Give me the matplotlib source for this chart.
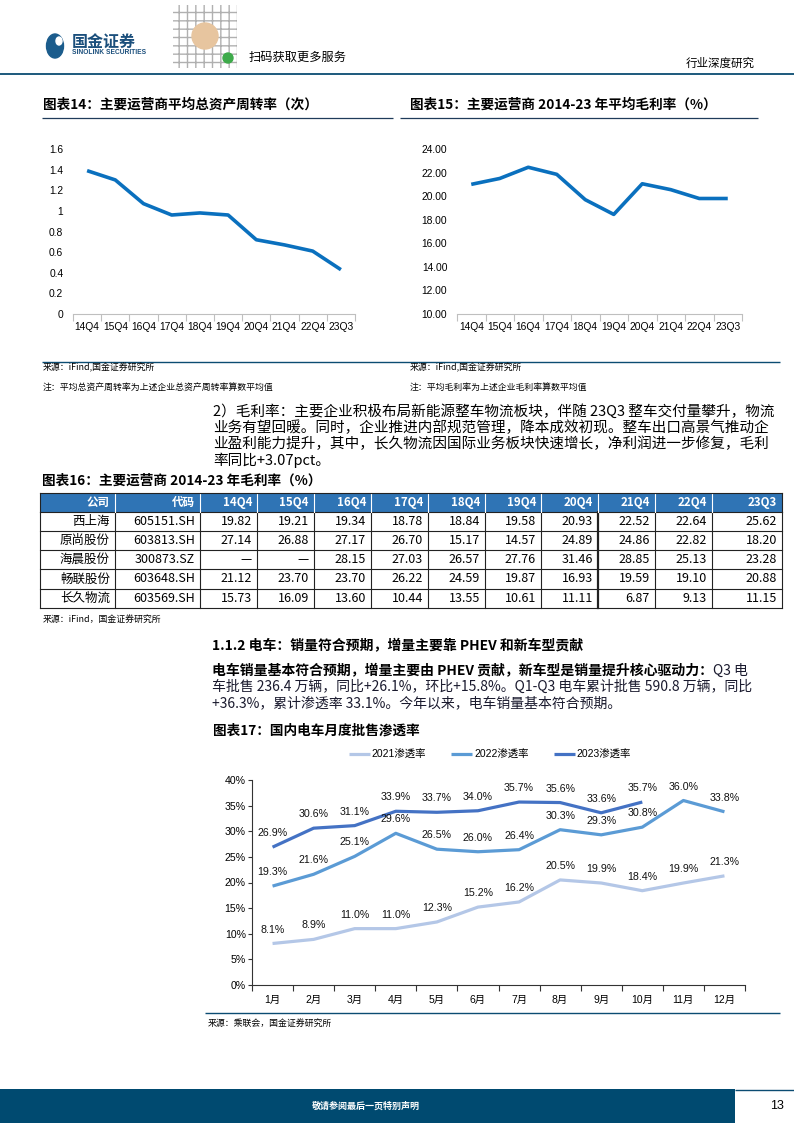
import numpy as np
import matplotlib
matplotlib.use('Agg')
import matplotlib.pyplot as plt
from matplotlib.patches import Rectangle, Circle, Ellipse
from matplotlib.ticker import FixedLocator

plt.rcParams['font.family'] = ['Liberation Sans', 'Noto Sans CJK SC', 'DejaVu Sans']
CJK = ['Noto Sans CJK SC', 'DejaVu Sans']

# ---- data ----
quarters = ['14Q4', '15Q4', '16Q4', '17Q4', '18Q4', '19Q4', '20Q4', '21Q4', '22Q4', '23Q3']
turnover = [1.39, 1.30, 1.07, 0.96, 0.98, 0.96, 0.72, 0.67, 0.61, 0.43]
turnover_ticks = [0, 0.2, 0.4, 0.6, 0.8, 1.0, 1.2, 1.4, 1.6]
turnover_labels = ['0', '0.2', '0.4', '0.6', '0.8', '1', '1.2', '1.4', '1.6']
gross_margin = [21.0, 21.5, 22.45, 21.85, 19.7, 18.45, 21.05, 20.55, 19.8, 19.8]
margin_ticks = [10, 12, 14, 16, 18, 20, 22, 24]

companies = ['西上海', '原尚股份', '海晨股份', '畅联股份', '长久物流']
codes = ['605151.SH', '603813.SH', '300873.SZ', '603648.SH', '603569.SH']
m_xishanghai = [19.82, 19.21, 19.34, 18.78, 18.84, 19.58, 20.93, 22.52, 22.64, 25.62]
m_yuanshang = [27.14, 26.88, 27.17, 26.70, 15.17, 14.57, 24.89, 24.86, 22.82, 18.20]
m_haichen = [None, None, 28.15, 27.03, 26.57, 27.76, 31.46, 28.85, 25.13, 23.28]
m_changlian = [21.12, 23.70, 23.70, 26.22, 24.59, 19.87, 16.93, 19.59, 19.10, 20.88]
m_changjiu = [15.73, 16.09, 13.60, 10.44, 13.55, 10.61, 11.11, 6.87, 9.13, 11.15]
table_rows = [m_xishanghai, m_yuanshang, m_haichen, m_changlian, m_changjiu]

months = ['1月', '2月', '3月', '4月', '5月', '6月', '7月', '8月', '9月', '10月', '11月', '12月']
ev_2021 = [8.1, 8.9, 11.0, 11.0, 12.3, 15.2, 16.2, 20.5, 19.9, 18.4, 19.9, 21.3]
ev_2022 = [19.3, 21.6, 25.1, 29.6, 26.5, 26.0, 26.4, 30.3, 29.3, 30.8, 36.0, 33.8]
ev_2023 = [26.9, 30.6, 31.1, 33.9, 33.7, 34.0, 35.7, 35.6, 33.6, 35.7]
ev_ticks = [0, 5, 10, 15, 20, 25, 30, 35, 40]

# ---- page ----
W, H = 794, 1123
fig = plt.figure(figsize=(W / 100, H / 100), dpi=100)
page = fig.add_axes([0, 0, 1, 1], zorder=0)
page.set_xlim(0, W)
page.set_ylim(H, 0)
page.axis('off')

NAVY = '#0B4C72'


def ax_px(x0, y0, x1, y1):
    a = fig.add_axes([x0 / W, 1 - y1 / H, (x1 - x0) / W, (y1 - y0) / H], zorder=2)
    a.set_facecolor('none')
    return a


def hline(x0, x1, y, color=NAVY, lw=1.0):
    page.plot([x0, x1], [y, y], color=color, lw=lw, solid_capstyle='butt')


# header
page.add_patch(Ellipse((55, 46), 17, 24, color='#1B5C8C'))
page.add_patch(Ellipse((59, 41), 6, 8, color='white'))
page.text(72, 42, '国金证券', fontsize=11.5, fontweight='bold', color='#1B4F7C', family=CJK, va='center')
page.text(72, 53, 'SINOLINK SECURITIES', fontsize=4.8, fontweight='bold', color='#1B4F7C', va='center')
page.add_patch(Rectangle((173, 5), 64, 63, facecolor='white', edgecolor='#b0b0b0', hatch='++', lw=0))
page.add_patch(Circle((205, 36), 13, color='#E7C59F'))
page.add_patch(Circle((228, 58), 5, color='#3DAA4A'))
page.text(249, 57, '扫码获取更多服务', fontsize=8.8, va='center', family=CJK)
page.text(755, 63, '行业深度研究', fontsize=8.3, ha='right', va='center', family=CJK)
hline(0, W, 74, lw=1.3)

# chart titles 14 / 15
page.text(43, 105, '图表14：主要运营商平均总资产周转率（次）', fontsize=9.8, fontweight='bold', va='center', family=CJK)
page.text(410, 105, '图表15：主要运营商 2014-23 年平均毛利率（%）', fontsize=9.8, fontweight='bold', va='center', family=CJK)
hline(42, 393, 117.5, color='#1F3B5A', lw=0.9)
hline(400, 758, 117.5, color='#1F3B5A', lw=0.9)


def quarter_axis(a):
    a.set_xlim(-0.5, len(quarters) - 0.5)
    a.set_xticks(range(len(quarters)))
    a.set_xticklabels(quarters)
    a.xaxis.set_minor_locator(FixedLocator(np.arange(-0.5, len(quarters), 1)))
    a.tick_params(axis='x', which='major', length=0, pad=6, labelsize=7.4)
    a.tick_params(axis='x', which='minor', length=5, color='#BFBFBF', width=0.8)
    a.tick_params(axis='y', length=0, pad=7, labelsize=7.4)
    for s in ['top', 'right', 'left']:
        a.spines[s].set_visible(False)
    a.spines['bottom'].set_color('#BFBFBF')
    a.spines['bottom'].set_linewidth(0.8)


ax14 = ax_px(73, 149, 355, 314)
ax14.plot(range(len(quarters)), turnover, color='#0A70BE', lw=2.6, solid_capstyle='butt')
ax14.set_ylim(0, 1.6)
ax14.set_yticks(turnover_ticks)
ax14.set_yticklabels(turnover_labels)
quarter_axis(ax14)

ax15 = ax_px(457, 149, 742, 314)
ax15.plot(range(len(quarters)), gross_margin, color='#0A70BE', lw=2.6, solid_capstyle='butt')
ax15.set_ylim(10, 24)
ax15.set_yticks(margin_ticks)
ax15.set_yticklabels([f'{v:.2f}' for v in margin_ticks])
quarter_axis(ax15)

# sources
hline(42, 780, 362, lw=1.0)
small = dict(fontsize=6.4, va='center', family=CJK)
page.text(43, 368, '来源：iFind,国金证券研究所', **small)
page.text(410, 368, '来源：iFind,国金证券研究所', **small)
page.text(43, 387, '注：平均总资产周转率为上述企业总资产周转率算数平均值', **small)
page.text(410, 387, '注：平均毛利率为上述企业毛利率算数平均值', **small)

# paragraph
para = ['2）毛利率：主要企业积极布局新能源整车物流板块，伴随 23Q3 整车交付量攀升，物流',
        '业务有望回暖。同时，企业推进内部规范管理，降本成效初现。整车出口高景气推动企',
        '业盈利能力提升，其中，长久物流因国际业务板块快速增长，净利润进一步修复，毛利',
        '率同比+3.07pct。']
for i, line in enumerate(para):
    page.text(213, 411 + i * 16.4, line, fontsize=10.5, va='center', family=CJK)

# table 16
page.text(42, 481, '图表16：主要运营商 2014-23 年毛利率（%）', fontsize=9.8, fontweight='bold', va='center', family=CJK)
bounds = [40, 115, 200, 257, 314, 371, 428, 485, 541, 598, 655, 712, 782]
row_y = [493, 512, 531, 550, 569, 589, 608]
header = ['公司', '代码'] + quarters
page.add_patch(Rectangle((bounds[0], row_y[0]), bounds[-1] - bounds[0], row_y[1] - row_y[0],
                         facecolor='#2F74B5', edgecolor='none'))
for j, h in enumerate(header):
    page.text(bounds[j + 1] - 5, (row_y[0] + row_y[1]) / 2, h, fontsize=8.3, fontweight='bold',
              color='white', ha='right', va='center', family=CJK)
for i in range(len(companies)):
    yc = (row_y[i + 1] + row_y[i + 2]) / 2
    cells = [companies[i], codes[i]] + ['—' if v is None else f'{v:.2f}' for v in table_rows[i]]
    for j, c in enumerate(cells):
        page.text(bounds[j + 1] - 5, yc, c, fontsize=9, ha='right', va='center', family=CJK)
for y in row_y[1:]:
    page.plot([bounds[0], bounds[-1]], [y, y], color='#222222', lw=0.8)
for j, x in enumerate(bounds):
    page.plot([x, x], [row_y[1], row_y[-1]], color='#222222', lw=1.6 if j == 9 else 0.8)
    if 0 < j < len(bounds) - 1:
        page.plot([x, x], [row_y[0], row_y[1]], color='white', lw=0.8)
page.plot([bounds[0], bounds[0]], [row_y[0], row_y[1]], color='#222222', lw=0.8)
page.plot([bounds[-1], bounds[-1]], [row_y[0], row_y[1]], color='#222222', lw=0.8)
page.plot([bounds[0], bounds[-1]], [row_y[0], row_y[0]], color='#222222', lw=0.8)
page.text(43, 619, '来源：iFind，国金证券研究所', **small)

# section 1.1.2
page.text(212, 646, '1.1.2 电车：销量符合预期，增量主要靠 PHEV 和新车型贡献', fontsize=10,
          fontweight='bold', va='center', family=CJK)
t_bold = page.text(212, 671, '电车销量基本符合预期，增量主要由 PHEV 贡献，新车型是销量提升核心驱动力：',
                   fontsize=10, fontweight='bold', va='center', family=CJK)
page.annotate('Q3 电', xy=(1, 0.5), xycoords=t_bold, va='center', ha='left',
              fontsize=10, family=CJK, color='#1a1a2e')
page.text(212, 687, '车批售 236.4 万辆，同比+26.1%，环比+15.8%。Q1-Q3 电车累计批售 590.8 万辆，同比',
          fontsize=10, va='center', family=CJK, color='#1a1a2e')
page.text(212, 703, '+36.3%，累计渗透率 33.1%。今年以来，电车销量基本符合预期。',
          fontsize=10, va='center', family=CJK, color='#1a1a2e')

# chart 17
page.text(213, 730, '图表17：国内电车月度批售渗透率', fontsize=9.8, fontweight='bold', va='center', family=CJK)
ax17 = ax_px(252, 780, 745, 985)
series = [(ev_2021, '#B4C7E7', '2021渗透率'),
          (ev_2022, '#5B9BD5', '2022渗透率'),
          (ev_2023, '#4472C4', '2023渗透率')]
for vals, col, lab in series:
    x = np.arange(len(vals))
    ax17.plot(x, vals, color=col, lw=2.3, label=lab, solid_capstyle='butt')
    for xi, v in zip(x, vals):
        ax17.annotate(f'{v:.1f}%', (xi, v), xytext=(0, 10), textcoords='offset points',
                      ha='center', va='center', fontsize=7.7, color='#111111')
ax17.set_xlim(-0.5, len(months) - 0.5)
ax17.set_ylim(0, 40)
ax17.set_yticks(ev_ticks)
ax17.set_yticklabels([f'{v}%' for v in ev_ticks])
ax17.set_xticks(range(len(months)))
ax17.set_xticklabels(months)
ax17.xaxis.set_minor_locator(FixedLocator(np.arange(-0.5, len(months), 1)))
ax17.tick_params(axis='x', which='major', length=0, pad=7, labelsize=7.5)
ax17.tick_params(axis='x', which='minor', length=4, color='#333333', width=0.8)
ax17.tick_params(axis='y', length=3, color='#333333', width=0.8, pad=1.5, labelsize=7.6)
for s in ['top', 'right']:
    ax17.spines[s].set_visible(False)
for s in ['left', 'bottom']:
    ax17.spines[s].set_color('#333333')
    ax17.spines[s].set_linewidth(0.8)
ax17.legend(loc='center', bbox_to_anchor=(490 / W, 1 - 755 / H), bbox_transform=fig.transFigure,
            ncol=3, frameon=False, handlelength=2.0, handletextpad=0.2,
            columnspacing=2.4, prop={'family': ['Liberation Sans', 'Noto Sans CJK SC'], 'size': 7.5})
hline(205, 780, 1013, lw=1.0)
page.text(208, 1023, '来源：乘联会，国金证券研究所', **small)

# footer
page.add_patch(Rectangle((0, 1089), 735, 34, facecolor='#004A70', edgecolor='none'))
page.text(366, 1106, '敬请参阅最后一页特别声明', fontsize=6.5, color='white', ha='center', va='center',
          family=CJK, fontweight='bold')
hline(735, W, 1090, lw=1.0)
page.text(777, 1106, '13', fontsize=9, ha='center', va='center')

fig.savefig('out.png', dpi=100)
